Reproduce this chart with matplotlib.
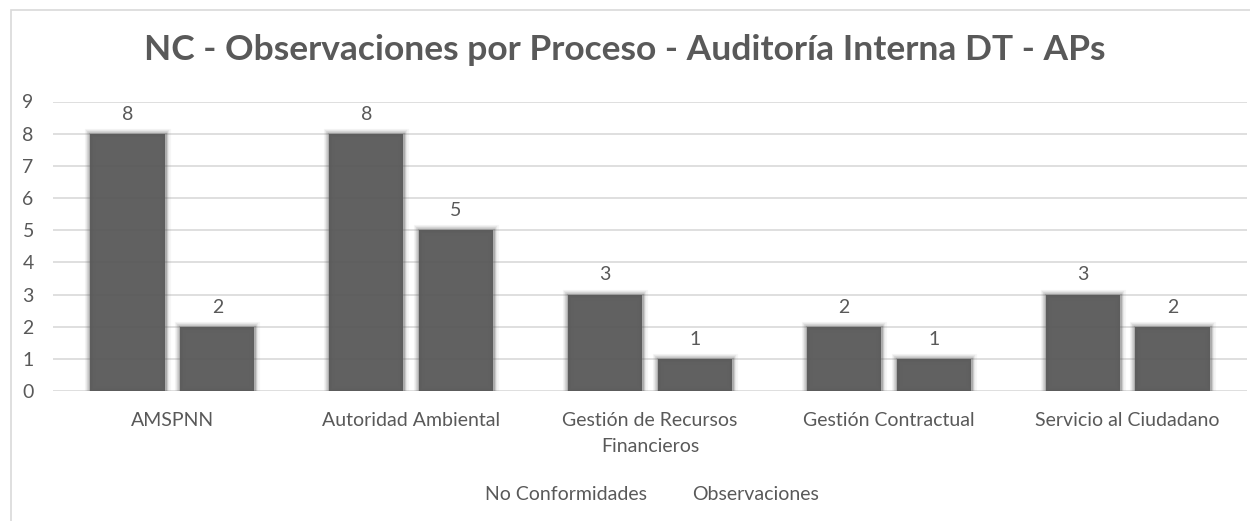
import numpy as np
import matplotlib
matplotlib.use("Agg")
import matplotlib.pyplot as plt
from matplotlib.patches import Patch, Rectangle

# --- data ---
categories = ["AMSPNN", "Autoridad Ambiental", "Gestión de Recursos\nFinancieros",
              "Gestión Contractual", "Servicio al Ciudadano"]
no_conformidades = [8, 8, 3, 2, 3]
observaciones = [2, 5, 1, 1, 2]
series_names = ["No Conformidades", "Observaciones"]

TEXT = "#595959"
BAR = "#5a5a5a"
FONT = "Lato"

plt.rcParams["font.family"] = [FONT, "DejaVu Sans"]

fig = plt.figure(figsize=(12.5, 5.21), dpi=100)
W, H = 1250, 521

# outer chart border (light gray, cut off on the right/bottom)
fig.patches.append(Rectangle((11 / W, -0.05), 1.2, (H - 10) / H + 0.05,
                             transform=fig.transFigure, fill=False,
                             edgecolor="#d9d9d9", linewidth=1.2))

ax = fig.add_axes([53 / W, (H - 391) / H, 1194 / W, (391 - 101.5) / H])

x = np.arange(len(categories))
width = 0.31
off = 0.188

for vals, dx in [(no_conformidades, -off), (observaciones, off)]:
    # soft "glow" around bars
    for lw, a in [(8, 0.05), (6, 0.09), (4, 0.16), (2.5, 0.3)]:
        ax.bar(x + dx, vals, width, color="none", edgecolor=BAR, linewidth=lw,
               alpha=a, zorder=2)
    bars = ax.bar(x + dx, vals, width, color=BAR, alpha=0.96, zorder=3)
    for b, v in zip(bars, vals):
        ax.annotate(str(v), (b.get_x() + b.get_width() / 2, v),
                    xytext=(0, 8), textcoords="offset points",
                    ha="center", va="bottom", fontsize=14, color=TEXT)

ax.set_xlim(-0.5, len(categories) - 0.5)
ax.set_ylim(0, 9)
ax.set_yticks(range(10))
ax.yaxis.grid(True, color="#d9d9d9", linewidth=1.2, zorder=0)
ax.set_axisbelow(True)
for s in ax.spines.values():
    s.set_visible(False)
ax.tick_params(axis="both", length=0, labelsize=14, labelcolor=TEXT)
ax.tick_params(axis="y", pad=22)
ax.tick_params(axis="x", pad=15)
ax.set_xticks(x)
ax.set_xticklabels(categories, linespacing=1.65)
for lab in ax.get_yticklabels():
    lab.set_horizontalalignment("left")

fig.text(0.5, 1 - 50 / H, "NC - Observaciones por Proceso - Auditoría Interna DT - APs",
         ha="center", va="center", fontsize=25.5, fontweight="bold", color=TEXT)

handles = [Patch(facecolor="none", edgecolor="none") for _ in series_names]
fig.legend(handles, series_names, loc="center", bbox_to_anchor=(0.5216, 1 - 495 / H),
           ncol=2, frameon=False, fontsize=14, labelcolor=TEXT,
           handlelength=0, handletextpad=0, columnspacing=2.3)

fig.savefig("out.png", dpi=100)
